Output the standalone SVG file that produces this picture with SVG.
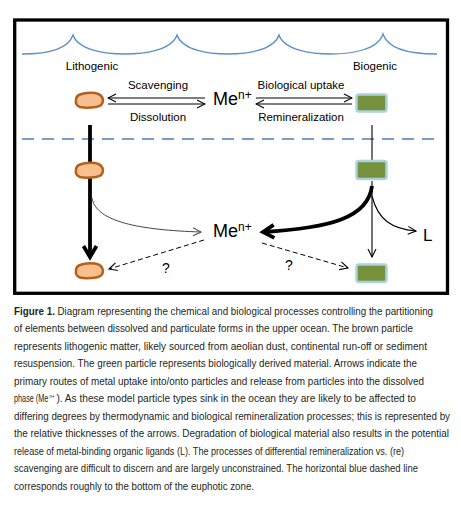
<svg xmlns="http://www.w3.org/2000/svg" width="461" height="509" viewBox="0 0 461 509">
<style>
.lbl{font-family:"Liberation Sans",Arial,sans-serif;font-size:11.5px;fill:#000;text-anchor:middle}
.me{font-family:"Liberation Sans",Arial,sans-serif;font-size:18px;fill:#000}
.cap{font-family:"Liberation Sans",Arial,sans-serif;font-size:11px;fill:#231f20}
.thin{fill:none;stroke:#000;stroke-width:1.1}
.thick{fill:none;stroke:#000;stroke-width:3.8}
.dash{fill:none;stroke:#000;stroke-width:1;stroke-dasharray:5 3}
.litho{fill:#f9bf8f;stroke:#b5601c;stroke-width:2.5}
.bio{fill:#77923c;stroke:#a8d3df;stroke-width:2.5}
</style>
<defs>
<marker id="ah" markerUnits="userSpaceOnUse" viewBox="0 0 10 10" refX="9" refY="5" markerWidth="10" markerHeight="10" orient="auto">
<path d="M1,1 L9,5 L1,9" fill="none" stroke="#000" stroke-width="1.1"/>
</marker>
<marker id="ahg" markerUnits="userSpaceOnUse" viewBox="0 0 10 10" refX="9" refY="5" markerWidth="10" markerHeight="10" orient="auto">
<path d="M1,1 L9,5 L1,9" fill="none" stroke="#555" stroke-width="1.1"/>
</marker>
<marker id="ahk" markerUnits="userSpaceOnUse" viewBox="0 0 18 18" refX="14" refY="9" markerWidth="18" markerHeight="18" orient="auto">
<path d="M3,2.5 L14,9 L3,15.5" fill="none" stroke="#000" stroke-width="3.8" stroke-linejoin="miter"/>
</marker>
<path id="blob" d="M-9.5,-5.5 Q-3.5,-8 5.5,-7 Q12.5,-6 13.5,0 Q13.5,6 6.5,7 Q-3.5,8.5 -9.5,7 Q-14.5,5 -13.5,0 Q-13.5,-4 -9.5,-5.5 Z"/>
</defs>
<rect x="0" y="0" width="461" height="509" fill="#fff"/>
<rect x="14.7" y="20" width="432.8" height="273.3" fill="none" stroke="#000" stroke-width="3.3"/>
<g id="surface">
<path d="M22,54 C45,54 68,50 73,35 C78,50 105,54 125,54 C145,54 172,50 177,35 C182,50 208,54 228,54 C248,54 274,50 279,35 C284,50 311,54 331,54 C351,54 378,50 383,34 C388,50 414,54 437,54" fill="none" stroke="#5b8fc8" stroke-width="1.3"/>
</g>
<g id="euphotic">
<line x1="22" y1="139" x2="437" y2="139" stroke="#4a7fb5" stroke-width="1.3" stroke-dasharray="12 8"/>
</g>
<g id="connectors">
<line class="thin" x1="205" y1="98" x2="108" y2="98" marker-end="url(#ah)"/>
<line class="thin" x1="108" y1="104" x2="205" y2="104" marker-end="url(#ah)"/>
<line class="thin" x1="256" y1="98" x2="352" y2="98" marker-end="url(#ah)"/>
<line class="thin" x1="352" y1="104" x2="256" y2="104" marker-end="url(#ah)"/>
<line class="thick" x1="90" y1="125" x2="90" y2="257" marker-end="url(#ahk)"/>
<line class="thin" x1="372" y1="125" x2="372" y2="160"/>
<line class="thin" x1="372" y1="181" x2="372" y2="257" marker-end="url(#ah)"/>
<path d="M92,198 C96,222 140,230 201,232" fill="none" stroke="#444" stroke-width="1" marker-end="url(#ahg)"/>
<path class="thick" d="M372,186 C368,218 330,228 263,232" marker-end="url(#ahk)"/>
<path class="thin" d="M372,196 C378,220 392,229 416,231" marker-end="url(#ah)"/>
<line class="dash" x1="204" y1="240" x2="109" y2="269" marker-end="url(#ah)"/>
<line class="dash" x1="262" y1="243" x2="348" y2="268" marker-end="url(#ah)"/>
</g>
<g id="litho-top"><use href="#blob" class="litho" transform="translate(89.5,100)"/></g>
<g id="litho-mid"><use href="#blob" class="litho" transform="translate(89.5,170)"/></g>
<g id="litho-bot"><use href="#blob" class="litho" transform="translate(89.5,270.5)"/></g>
<g id="bio-top"><rect class="bio" x="356.5" y="94.5" width="30" height="17" rx="2.5"/></g>
<g id="bio-mid"><rect class="bio" x="356.5" y="161" width="30" height="18" rx="2.5"/></g>
<g id="bio-bot"><rect class="bio" x="356.5" y="264.5" width="30" height="17.5" rx="2.5"/></g>
<g id="labels">
<text class="lbl" x="92" y="70">Lithogenic</text>
<text class="lbl" x="375" y="70">Biogenic</text>
<text class="lbl" x="158" y="89">Scavenging</text>
<text class="lbl" x="158" y="121">Dissolution</text>
<text class="lbl" x="301" y="89">Biological uptake</text>
<text class="lbl" x="301" y="121">Remineralization</text>
<text class="lbl" x="166" y="273" style="font-size:14px">?</text>
<text class="lbl" x="289" y="270" style="font-size:14px">?</text>
<text class="me" x="423" y="241" style="font-size:17px">L</text>
</g>
<g id="me-top"><text class="me" x="213" y="105">Me<tspan font-size="12" dy="-6">n+</tspan></text></g>
<g id="me-mid"><text class="me" x="213" y="237">Me<tspan font-size="12" dy="-6">n+</tspan></text></g>
<g id="caption" transform="scale(0.8,1)">
<text class="cap" x="17.5" y="315" font-weight="bold" textLength="51.25" lengthAdjust="spacingAndGlyphs">Figure 1.</text>
<text class="cap" x="71.9" y="315" textLength="469.4" lengthAdjust="spacingAndGlyphs">Diagram representing the chemical and biological processes controlling the partitioning</text>
<text class="cap" x="17.5" y="332.5" textLength="498.75" lengthAdjust="spacingAndGlyphs">of elements between dissolved and particulate forms in the upper ocean. The brown particle</text>
<text class="cap" x="17.5" y="350" textLength="516.25" lengthAdjust="spacingAndGlyphs">represents lithogenic matter, likely sourced from aeolian dust, continental run-off or sediment</text>
<text class="cap" x="17.5" y="367.5" textLength="503.75" lengthAdjust="spacingAndGlyphs">resuspension. The green particle represents biologically derived material. Arrows indicate the</text>
<text class="cap" x="17.5" y="385" textLength="512.5" lengthAdjust="spacingAndGlyphs">primary routes of metal uptake into/onto particles and release from particles into the dissolved</text>
<text class="cap" x="17.5" y="402.5" textLength="43" lengthAdjust="spacingAndGlyphs">phase (Me</text>
<text class="cap" x="62" y="398" style="font-size:5.5px">n+</text>
<text class="cap" x="70.5" y="402.5" textLength="449.5" lengthAdjust="spacingAndGlyphs">). As these model particle types sink in the ocean they are likely to be affected to</text>
<text class="cap" x="17.5" y="420" textLength="545" lengthAdjust="spacingAndGlyphs">differing degrees by thermodynamic and biological remineralization processes; this is represented by</text>
<text class="cap" x="17.5" y="437.5" textLength="543.75" lengthAdjust="spacingAndGlyphs">the relative thicknesses of the arrows. Degradation of biological material also results in the potential</text>
<text class="cap" x="17.5" y="455" textLength="487.5" lengthAdjust="spacingAndGlyphs">release of metal-binding organic ligands (L). The processes of differential remineralization vs. (re)</text>
<text class="cap" x="17.5" y="472.5" textLength="505" lengthAdjust="spacingAndGlyphs">scavenging are difficult to discern and are largely unconstrained. The horizontal blue dashed line</text>
<text class="cap" x="17.5" y="490" textLength="300" lengthAdjust="spacingAndGlyphs">corresponds roughly to the bottom of the euphotic zone.</text>
</g>
</svg>
